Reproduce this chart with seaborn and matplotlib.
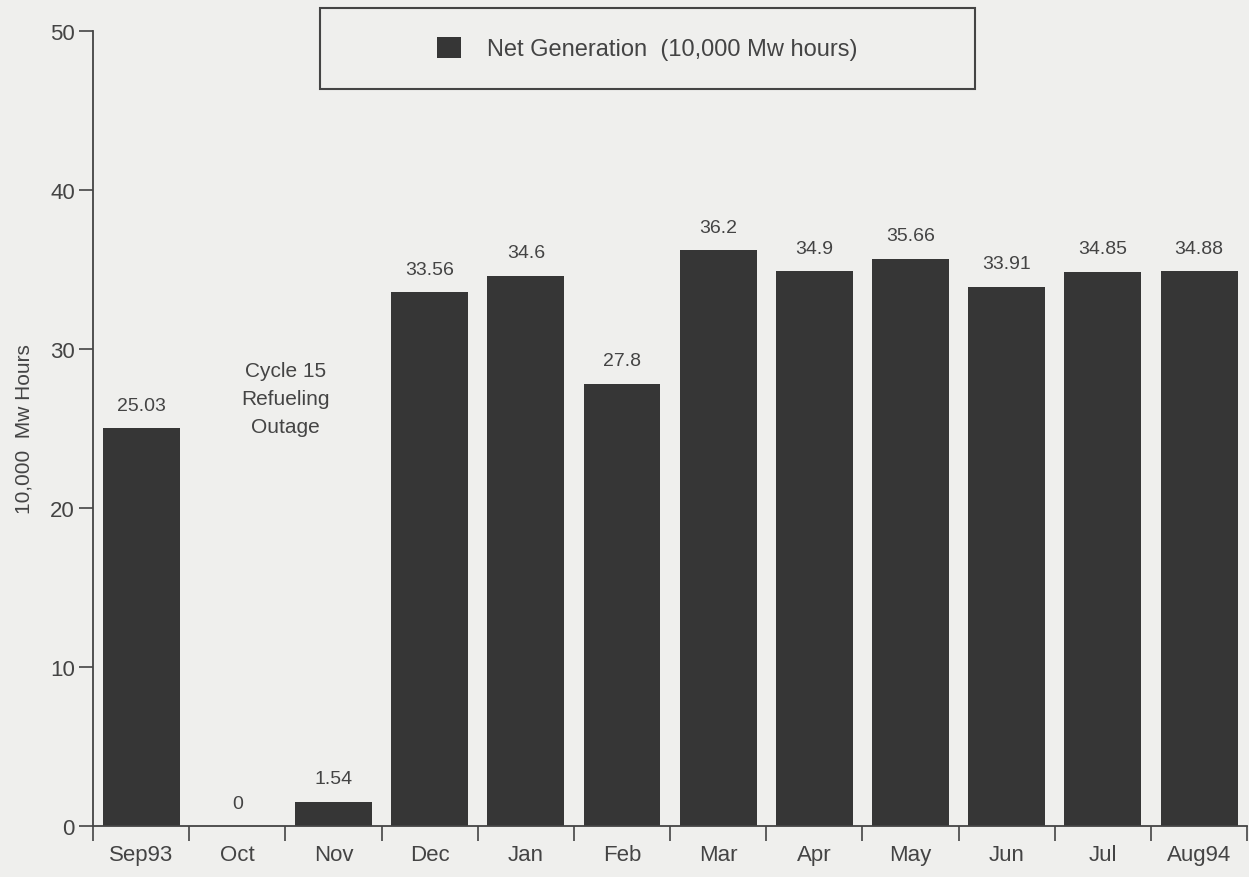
import numpy as np
import pandas as pd
import matplotlib
matplotlib.use("Agg")
import matplotlib.pyplot as plt
import seaborn as sns
from matplotlib.patches import Patch, Rectangle

# Datos
months = ["Sep93", "Oct", "Nov", "Dec", "Jan", "Feb", "Mar", "Apr", "May", "Jun", "Jul", "Aug94"]
net_generation = [25.03, 0, 1.54, 33.56, 34.6, 27.8, 36.2, 34.9, 35.66, 33.91, 34.85, 34.88]
value_labels = ["25.03", "0", "1.54", "33.56", "34.6", "27.8", "36.2", "34.9", "35.66", "33.91", "34.85", "34.88"]
y_ticks = [0, 10, 20, 30, 40, 50]

df = pd.DataFrame({"month": months, "value": net_generation})

bg = "#efefed"
bar_color = "#363636"
ink = "#444444"

sns.set_theme(style="ticks")
plt.rcParams["font.family"] = ["Liberation Sans", "DejaVu Sans"]

fig = plt.figure(figsize=(12.49, 8.78), dpi=100, facecolor=bg)
ax = fig.add_axes([0.0745, 0.058, 0.924, 0.906], facecolor=bg)

sns.barplot(data=df, x="month", y="value", color=bar_color, saturation=1,
            width=0.8, ax=ax, edgecolor="none")

# Etiquetas de valor sobre las barras
for i, (v, lab) in enumerate(zip(net_generation, value_labels)):
    ax.text(i, v + 0.9, lab, ha="center", va="bottom", fontsize=14, color=ink)

ax.text(1.5, 26.9, "Cycle 15\nRefueling\nOutage", ha="center", va="center",
        fontsize=15, color=ink, linespacing=1.6)

ax.set_xlim(-0.5, 11.5)
ax.set_ylim(0, 50)
ax.set_yticks(y_ticks)
ax.set_xlabel("")
ax.set_ylabel("10,000  Mw Hours", fontsize=15, color=ink, labelpad=12)

# Marcas de separación entre meses
ax.set_xticks(np.arange(-0.5, 12, 1), minor=True)
ax.tick_params(axis="x", which="major", length=0, labelsize=16, labelcolor=ink, pad=13)
ax.tick_params(axis="x", which="minor", length=11, width=1.2, color=ink, direction="out")
ax.tick_params(axis="y", length=10, width=1.2, color=ink, labelsize=16, labelcolor=ink, pad=3)

for side in ["top", "right"]:
    ax.spines[side].set_visible(False)
for side in ["left", "bottom"]:
    ax.spines[side].set_color(ink)
    ax.spines[side].set_linewidth(1.3)

# Leyenda con recuadro amplio
frame = Rectangle((320 / 1249, 1 - 90 / 878), 655 / 1249, 81 / 878,
                  transform=fig.transFigure, facecolor=bg, edgecolor=ink,
                  linewidth=1.5, zorder=5)
fig.add_artist(frame)
handle = Patch(facecolor=bar_color, edgecolor="none")
leg = fig.legend([handle], ["Net Generation  (10,000 Mw hours)"],
                 loc="center", bbox_to_anchor=(647 / 1249, 1 - 49.5 / 878),
                 fontsize=17, frameon=False,
                 handlelength=1.0, handleheight=1.0,
                 handletextpad=1.1, labelcolor=ink)
leg.set_zorder(6)

fig.savefig("out.png", dpi=100, facecolor=bg)
plt.close(fig)
